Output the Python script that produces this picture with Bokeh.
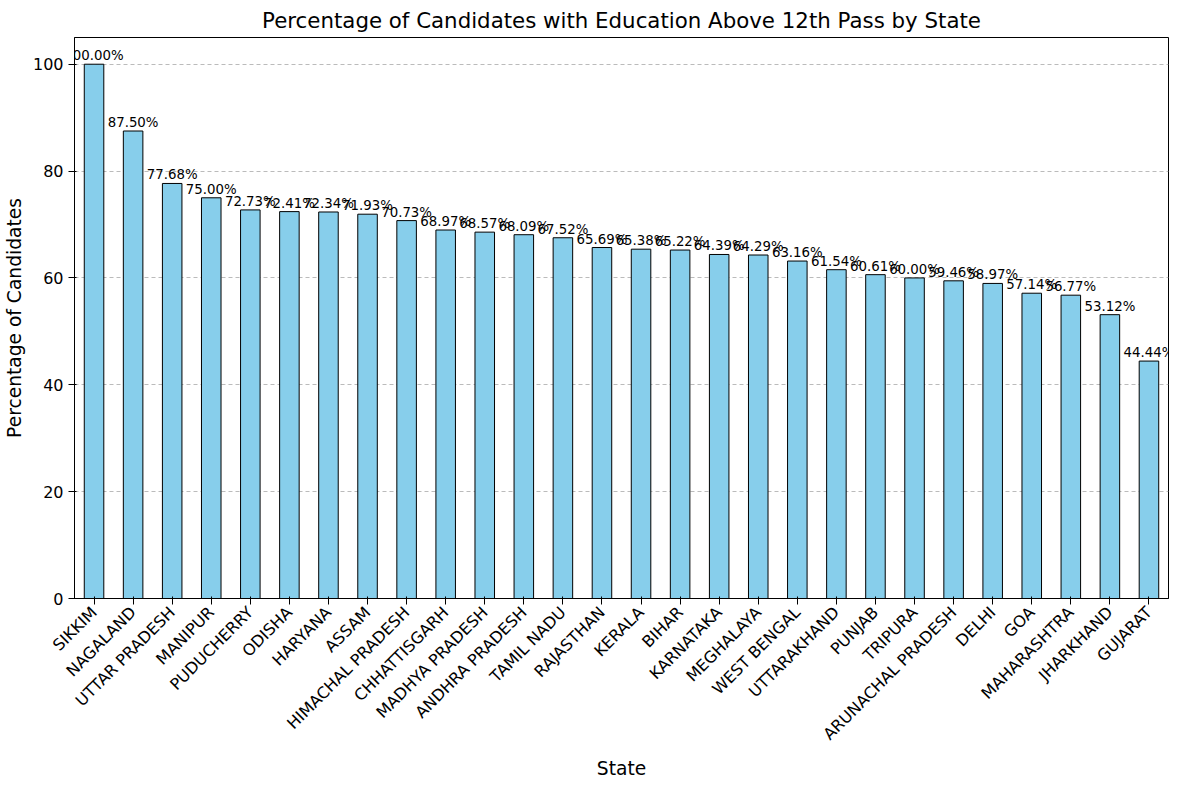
import math
from bokeh.plotting import figure
from bokeh.models import ColumnDataSource, Range1d
from bokeh.core.properties import value
from bokeh.embed import file_html
from bokeh.resources import INLINE

states = ["SIKKIM","NAGALAND","UTTAR PRADESH","MANIPUR","PUDUCHERRY","ODISHA","HARYANA","ASSAM",
          "HIMACHAL PRADESH","CHHATTISGARH","MADHYA PRADESH","ANDHRA PRADESH","TAMIL NADU","RAJASTHAN",
          "KERALA","BIHAR","KARNATAKA","MEGHALAYA","WEST BENGAL","UTTARAKHAND","PUNJAB","TRIPURA",
          "ARUNACHAL PRADESH","DELHI","GOA","MAHARASHTRA","JHARKHAND","GUJARAT"]
pct = [100.00,87.50,77.68,75.00,72.73,72.41,72.34,71.93,70.73,68.97,68.57,68.09,67.52,65.69,
       65.38,65.22,64.39,64.29,63.16,61.54,60.61,60.00,59.46,58.97,57.14,56.77,53.12,44.44]
labels = [f"{v:.2f}%" for v in pct]

src = ColumnDataSource(dict(x=states, y=pct, t=labels))
F = "DejaVu Sans"
p = figure(x_range=states, y_range=Range1d(0, 105), width=1171, height=782,
           output_backend="svg", toolbar_location=None,
           title="Percentage of Candidates with Education Above 12th Pass by State")
p.vbar(x="x", top="y", width=0.5, source=src, fill_color="#87ceeb", line_color="black")
p.text(x="x", y="y", text="t", source=src, text_align="center", text_baseline="bottom",
       text_font=value(F), text_font_size="10pt", y_offset=-1)
p.title.align = "center"
p.title.text_font = F
p.title.text_font_size = "16pt"
p.title.text_font_style = "normal"
p.title.text_color = "black"
p.xaxis.axis_label = "State"
p.yaxis.axis_label = "Percentage of Candidates"
for ax in (p.xaxis, p.yaxis):
    ax.axis_label_text_font = F
    ax.axis_label_text_font_size = "14pt"
    ax.axis_label_text_font_style = "normal"
    ax.axis_label_text_color = "black"
    ax.major_label_text_font = F
    ax.major_label_text_font_size = "12pt"
    ax.major_label_text_color = "black"
    ax.minor_tick_line_color = None
p.xaxis.major_label_orientation = math.pi / 4
p.yaxis.ticker = [0, 20, 40, 60, 80, 100]
p.xgrid.grid_line_color = None
p.ygrid.grid_line_dash = "4 3"
p.ygrid.grid_line_color = "#bbbbbb"
p.outline_line_color = "black"
p.x_range.range_padding = 0.0
p.min_border_right = 3
p.min_border_top = 5
open("out.html", "w").write(file_html(p, INLINE))
